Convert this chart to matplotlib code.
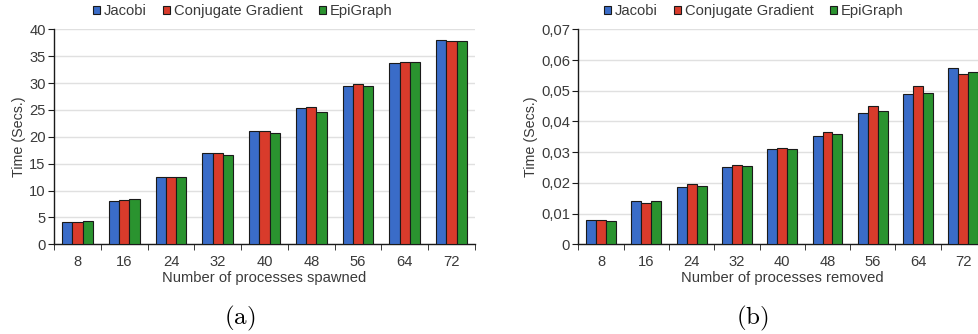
import matplotlib
matplotlib.use("Agg")
import matplotlib.pyplot as plt
import numpy as np
from matplotlib.ticker import FuncFormatter
from matplotlib.patches import Patch

plt.rcParams['font.family'] = ['Liberation Sans', 'DejaVu Sans']
plt.rcParams['mathtext.fontset'] = 'cm'

categories = ['8', '16', '24', '32', '40', '48', '56', '64', '72']
series_names = ['Jacobi', 'Conjugate Gradient', 'EpiGraph']

spawned_jacobi = [4.2, 8.1, 12.6, 16.9, 21.0, 25.3, 29.5, 33.7, 38.1]
spawned_cg = [4.2, 8.2, 12.6, 16.9, 21.0, 25.6, 29.8, 33.9, 37.8]
spawned_epi = [4.3, 8.4, 12.5, 16.6, 20.8, 24.7, 29.4, 33.9, 37.9]

removed_jacobi = [0.0080, 0.0140, 0.0186, 0.0251, 0.0311, 0.0354, 0.0428, 0.0488, 0.0575]
removed_cg = [0.0078, 0.0135, 0.0195, 0.0257, 0.0313, 0.0367, 0.0449, 0.0514, 0.0556]
removed_epi = [0.0075, 0.0140, 0.0189, 0.0254, 0.0311, 0.0358, 0.0433, 0.0492, 0.0561]

colors = ['#3A6CC8', '#D93B2B', '#2A932F']
edge = '#1a1a1a'
txt = '#3a3a3a'
fs = 10.6

fig = plt.figure(figsize=(9.79, 3.34), dpi=100)
axA = fig.add_axes([54/979, 1-244.3/334, 421/979, 215/334])
axB = fig.add_axes([578.4/979, 1-244.3/334, 407.6/979, 215/334])

def draw(ax, data, ymax, ystep, xlabel, fmt):
    x = np.arange(len(categories))
    w = 0.22
    for i, (vals, c) in enumerate(zip(data, colors)):
        ax.bar(x + (i-1)*w, vals, w, color=c, edgecolor=edge, linewidth=0.8, zorder=3)
    ax.set_xlim(-0.5, len(categories)-0.5)
    ax.set_ylim(0, ymax)
    ax.set_yticks(np.arange(0, ymax + ystep/2, ystep))
    ax.yaxis.set_major_formatter(FuncFormatter(fmt))
    ax.set_xticks(x)
    ax.set_xticklabels(categories)
    ax.set_xticks(np.arange(-0.5, len(categories), 1), minor=True)
    ax.tick_params(axis='x', which='major', length=0, pad=8, labelsize=fs, labelcolor=txt)
    ax.tick_params(axis='x', which='minor', length=4, direction='out', color=edge)
    ax.tick_params(axis='y', length=4, direction='out', labelsize=fs, labelcolor=txt, color=edge, pad=2)
    ax.grid(axis='y', color='#e0e0e0', linewidth=1, zorder=0)
    for s in ['top', 'right']:
        ax.spines[s].set_visible(False)
    for s in ['left', 'bottom']:
        ax.spines[s].set_color(edge)
        ax.spines[s].set_linewidth(1.0)
    ax.set_xlabel(xlabel, fontsize=fs, color=txt, labelpad=1)
    ax.set_ylabel('Time (Secs.)', fontsize=10.3, color=txt, labelpad=2)

draw(axA, [spawned_jacobi, spawned_cg, spawned_epi], 40, 5,
     'Number of processes spawned', lambda v, p: f'{v:.0f}')
draw(axB, [removed_jacobi, removed_cg, removed_epi], 0.07, 0.01,
     'Number of processes removed',
     lambda v, p: '0' if abs(v) < 1e-9 else f'{v:.2f}'.replace('.', ','))

handles = [Patch(facecolor=c, edgecolor=edge, linewidth=0.8) for c in colors]
for cx in [243/979, 754/979]:
    fig.legend(handles, series_names, loc='center', bbox_to_anchor=(cx, 1-11/334),
               ncol=3, frameon=False, fontsize=fs, handlelength=0.45, handleheight=0.45,
               handletextpad=0.3, columnspacing=1.1, labelcolor=txt, borderaxespad=0,
               borderpad=0)

fig.text(240/979, 1-318/334, r'$(\mathrm{a})$', ha='center', va='center', fontsize=18)
fig.text(752/979, 1-318/334, r'$(\mathrm{b})$', ha='center', va='center', fontsize=18)

fig.savefig('out.png', dpi=100)
